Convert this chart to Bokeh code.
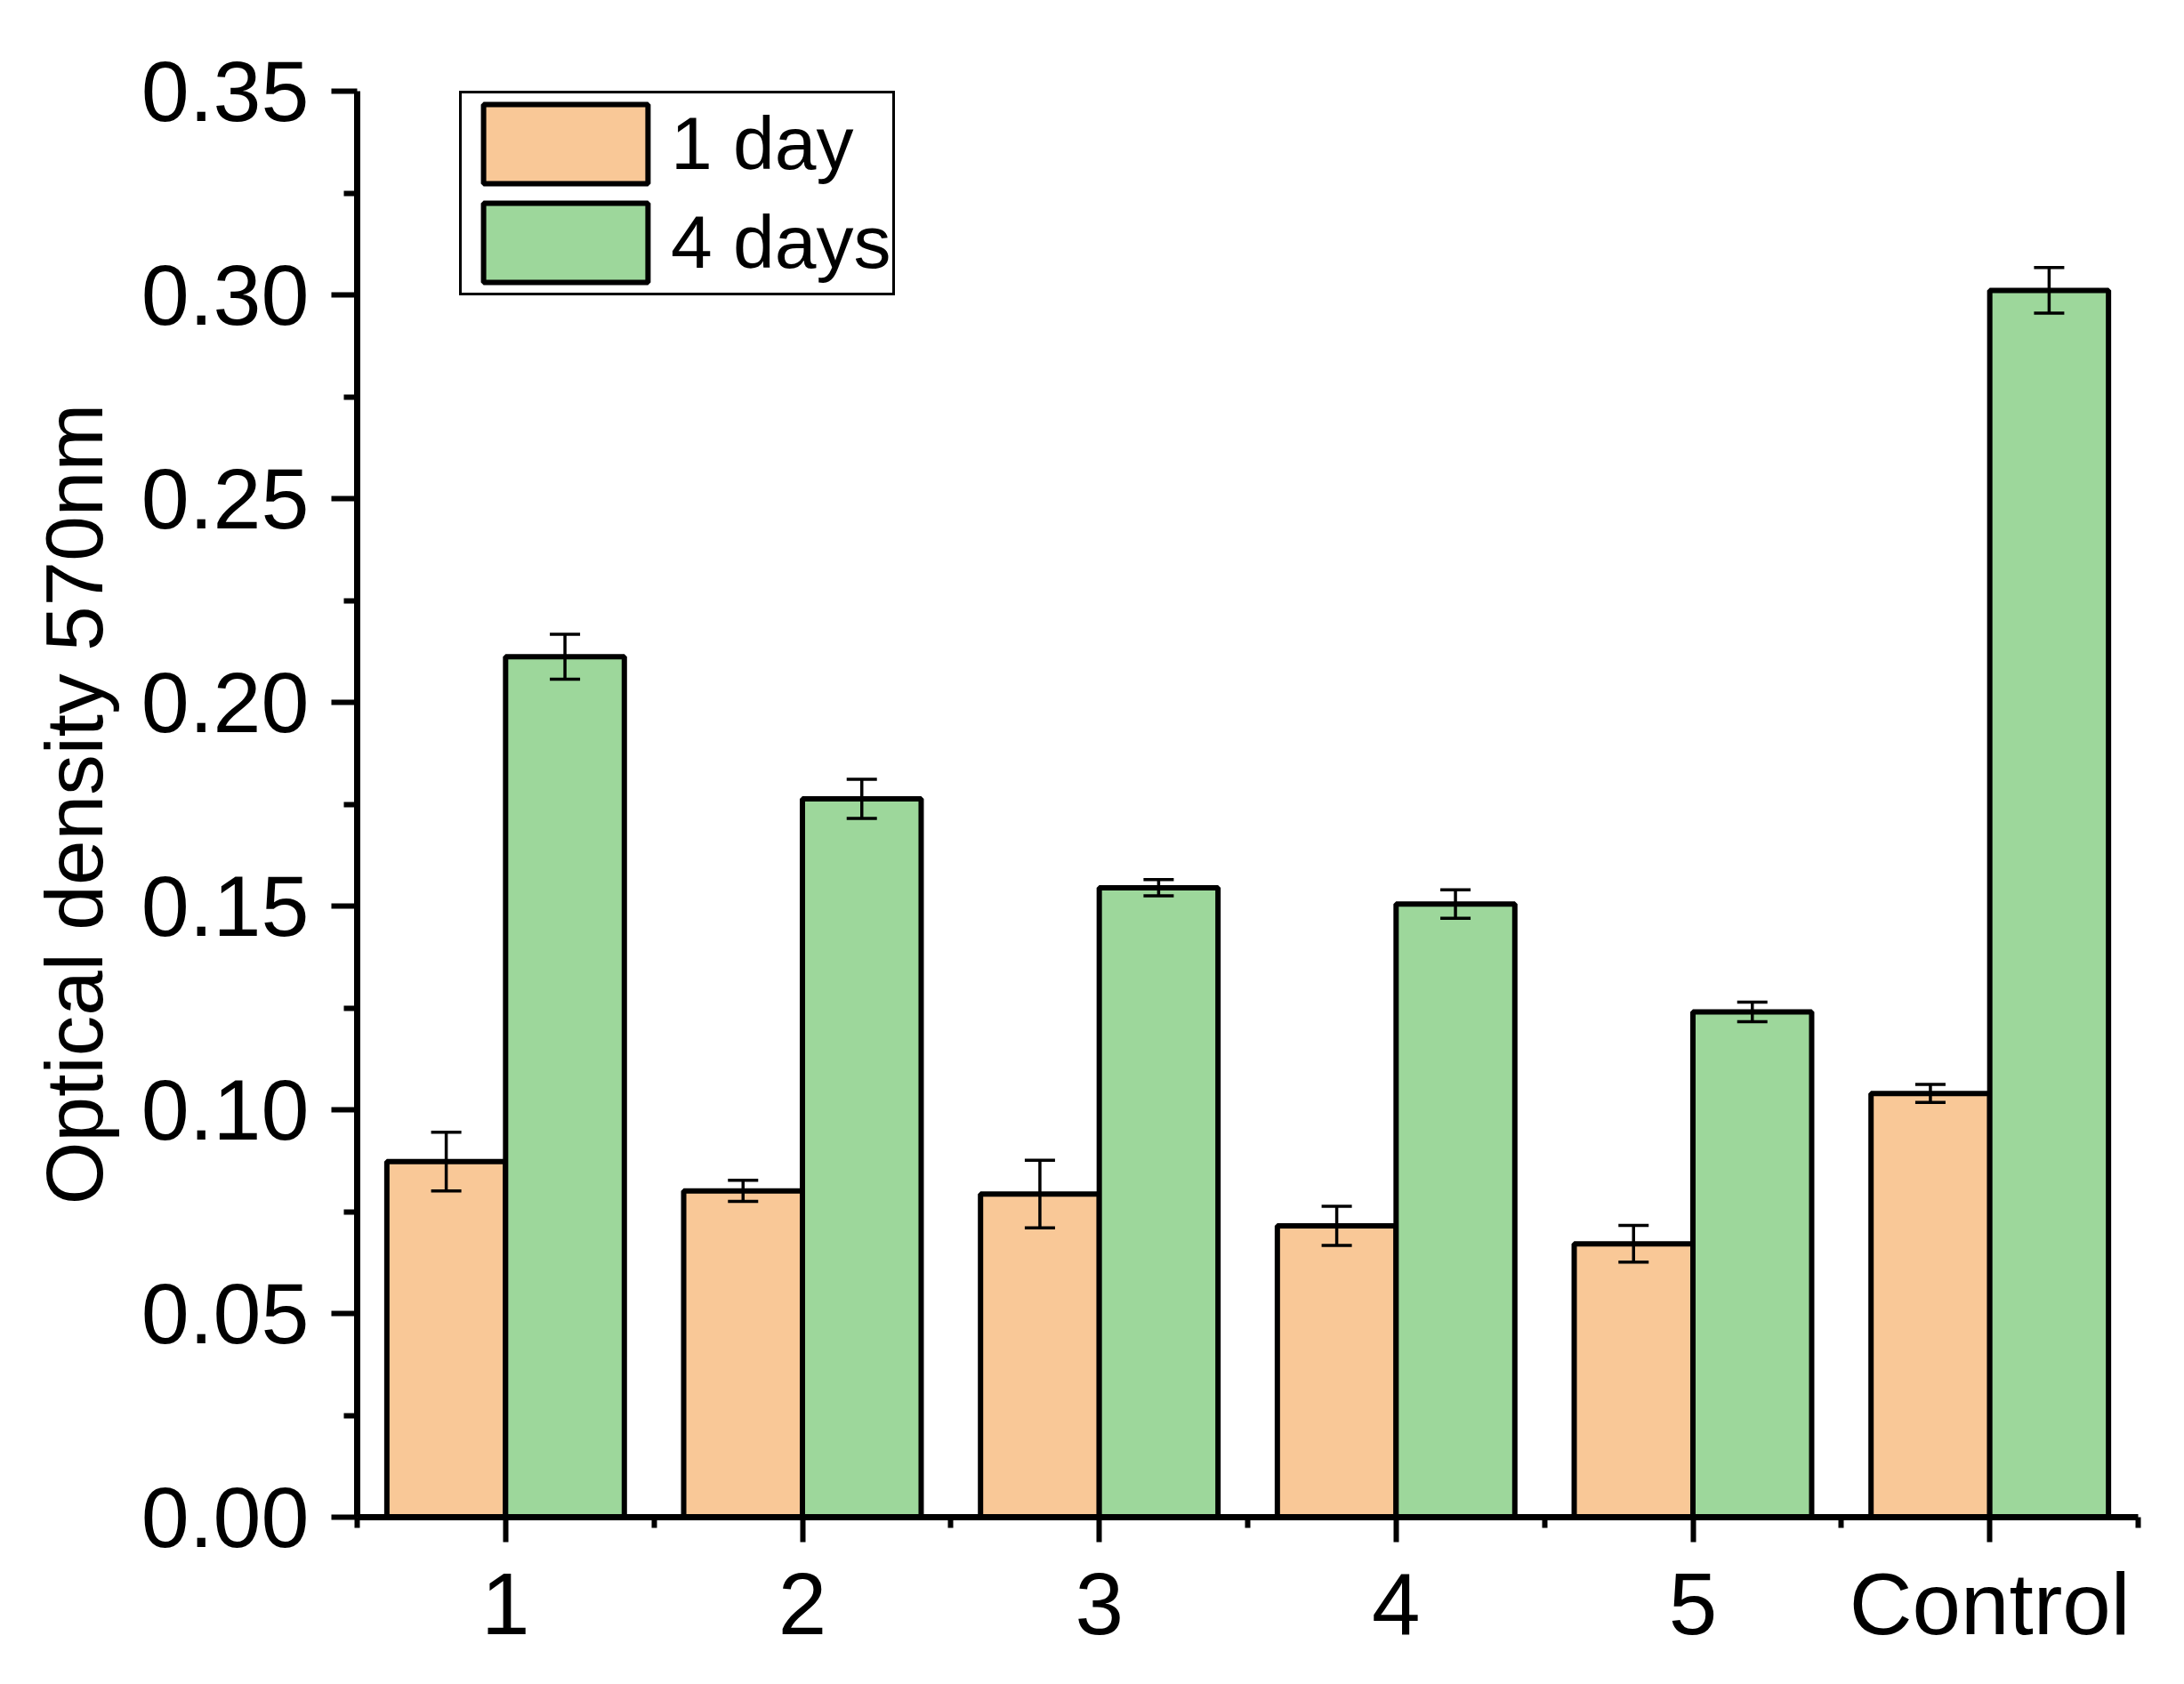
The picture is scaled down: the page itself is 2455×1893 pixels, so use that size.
from bokeh.plotting import figure
from bokeh.models import (ColumnDataSource, Range1d, FixedTicker, Whisker, TeeHead,
                          Legend, LegendItem)
from bokeh.transform import dodge
from bokeh.embed import file_html
from bokeh.resources import INLINE

# ---- data ----
categories = ["1", "2", "3", "4", "5", "Control"]
positions = [1, 2, 3, 4, 5, 6]
day1 = [0.0873, 0.0801, 0.0793, 0.0715, 0.0671, 0.1040]
day1_err = [0.0072, 0.0026, 0.0083, 0.0048, 0.0045, 0.0022]
day4 = [0.2112, 0.1763, 0.1545, 0.1505, 0.1240, 0.3011]
day4_err = [0.0055, 0.0048, 0.0020, 0.0035, 0.0024, 0.0056]
series_names = ["1 day", "4 days"]
y_ticks = [0.0, 0.05, 0.10, 0.15, 0.20, 0.25, 0.30, 0.35]
y_tick_labels = ["0.00", "0.05", "0.10", "0.15", "0.20", "0.25", "0.30", "0.35"]
y_minor = [0.025, 0.075, 0.125, 0.175, 0.225, 0.275, 0.325]
x_minor = [0.5, 1.5, 2.5, 3.5, 4.5, 5.5, 6.5]
y_label = "Optical density 570nm"

FONT = "Liberation Sans"
ORANGE = "#F9C897"
GREEN = "#9DD79B"
BAR_W = 0.4
OFF = 0.2

src = ColumnDataSource(dict(
    x=positions,
    d1=day1,
    d4=day4,
    d1_up=[v + e for v, e in zip(day1, day1_err)],
    d1_lo=[v - e for v, e in zip(day1, day1_err)],
    d4_up=[v + e for v, e in zip(day4, day4_err)],
    d4_lo=[v - e for v, e in zip(day4, day4_err)],
))

p = figure(width=2440, height=1885, output_backend="svg", toolbar_location=None,
           x_range=Range1d(0.5, 6.5), y_range=Range1d(0, 0.35),
           min_border_left=401, min_border_right=37, min_border_top=102,
           min_border_bottom=180)
p.outline_line_color = None
p.xgrid.visible = False
p.ygrid.visible = False
p.background_fill_color = "white"
p.border_fill_color = "white"

r1 = p.vbar(x=dodge("x", -OFF), top="d1", width=BAR_W, bottom=0, source=src,
            fill_color=ORANGE, line_color="black", line_width=6)
r2 = p.vbar(x=dodge("x", OFF), top="d4", width=BAR_W, bottom=0, source=src,
            fill_color=GREEN, line_color="black", line_width=6)

for off, up, lo in [(-OFF, "d1_up", "d1_lo"), (OFF, "d4_up", "d4_lo")]:
    w = Whisker(base=dodge("x", off), upper=up, lower=lo, source=src,
                line_color="black", line_width=3.5, level="overlay",
                upper_head=TeeHead(size=34, line_width=3.5, line_color="black"),
                lower_head=TeeHead(size=34, line_width=3.5, line_color="black"))
    p.add_layout(w)

# x axis
xa = p.xaxis[0]
xa.ticker = FixedTicker(ticks=positions, minor_ticks=x_minor)
xa.major_label_overrides = {pos: lab for pos, lab in zip(positions, categories)}
xa.axis_line_width = 7
xa.major_tick_line_width = 6
xa.minor_tick_line_width = 6
xa.major_tick_out = 28
xa.major_tick_in = 0
xa.minor_tick_out = 12
xa.minor_tick_in = 0
xa.major_label_text_font = FONT
xa.major_label_text_font_size = "98px"
xa.major_label_text_color = "black"
xa.major_label_standoff = 14

# y axis
ya = p.yaxis[0]
ya.ticker = FixedTicker(ticks=y_ticks, minor_ticks=y_minor)
ya.major_label_overrides = {t: lab for t, lab in zip(y_ticks, y_tick_labels)}
ya.axis_line_width = 7
ya.major_tick_line_width = 6
ya.minor_tick_line_width = 6
ya.major_tick_out = 29
ya.major_tick_in = 0
ya.minor_tick_out = 15
ya.minor_tick_in = 0
ya.major_label_text_font = FONT
ya.major_label_text_font_size = "97px"
ya.major_label_text_color = "black"
ya.major_label_standoff = 25
ya.axis_label = y_label
ya.axis_label_text_font = FONT
ya.axis_label_text_font_size = "91px"
ya.axis_label_text_font_style = "normal"
ya.axis_label_text_color = "black"
ya.axis_label_standoff = 22

legend = Legend(items=[LegendItem(label=series_names[0], renderers=[r1]),
                       LegendItem(label=series_names[1], renderers=[r2])],
                location=(115, 1373), orientation="vertical")
legend.glyph_width = 231
legend.glyph_height = 111
legend.label_height = 111
legend.label_text_font = FONT
legend.label_text_font_size = "84px"
legend.label_text_color = "black"
legend.label_standoff = 3
legend.padding = 1
legend.spacing = 0
legend.margin = 0
legend.border_line_color = "black"
legend.border_line_width = 3
legend.border_line_alpha = 1
legend.background_fill_alpha = 1
p.add_layout(legend, "center")

open("out.html", "w").write(file_html(p, INLINE))
